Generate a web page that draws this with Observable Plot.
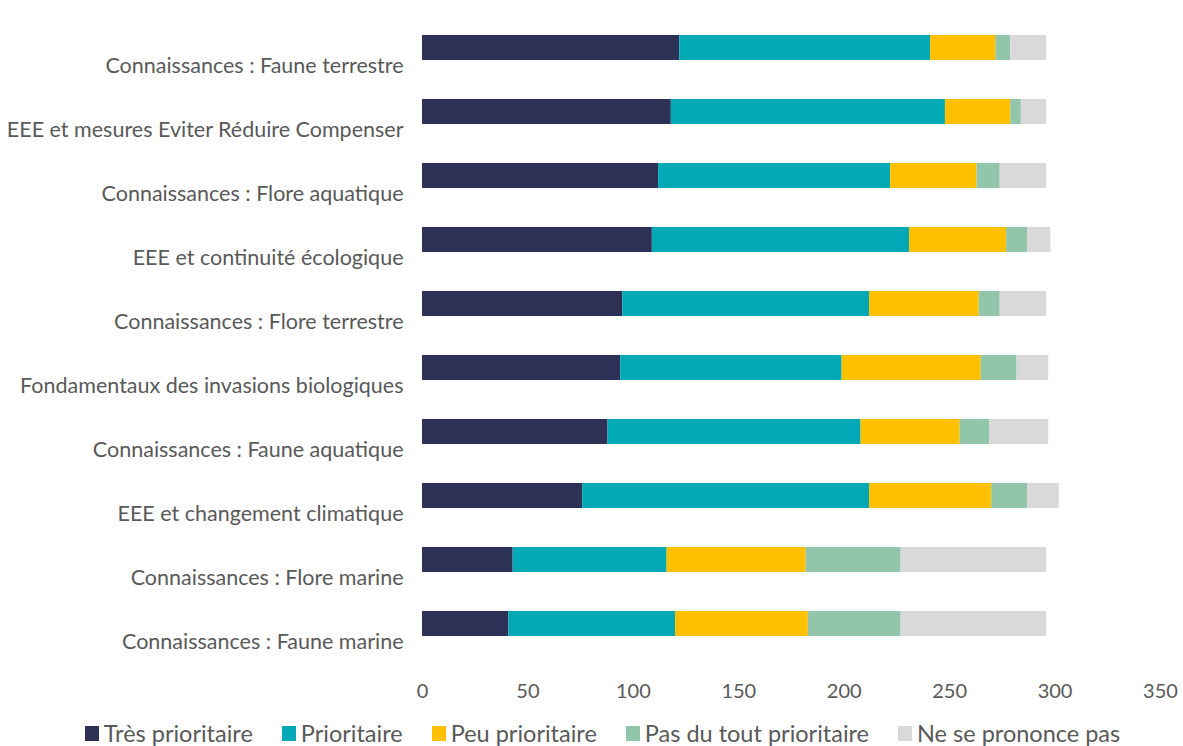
<!DOCTYPE html>
<html><head><meta charset="utf-8">
<script src="https://cdn.jsdelivr.net/npm/d3@7"></script>
<script src="https://cdn.jsdelivr.net/npm/@observablehq/plot@0.6"></script>
<style>
body{margin:0;background:#fff;font-family:Lato,"Open Sans",sans-serif;}
#chart svg{display:block;}
#legend{display:flex;justify-content:center;gap:29px;font-size:23.5px;line-height:28px;color:#595959;margin-top:7px;padding-left:22px;}
#legend span.sw{display:inline-block;width:14px;height:15px;margin-right:5px;}
#legend div{display:flex;align-items:center;}
</style></head><body>
<div id="chart"></div>
<div id="legend"></div>
<script>
const categories = [
  "Connaissances : Faune terrestre",
  "EEE et mesures Eviter Réduire Compenser",
  "Connaissances : Flore aquatique",
  "EEE et continuité écologique",
  "Connaissances : Flore terrestre",
  "Fondamentaux des invasions biologiques",
  "Connaissances : Faune aquatique",
  "EEE et changement climatique",
  "Connaissances : Flore marine",
  "Connaissances : Faune marine"
];
const series = ["Très prioritaire","Prioritaire","Peu prioritaire","Pas du tout prioritaire","Ne se prononce pas"];
const colors = ["#2E3156","#00A9B5","#FFC000","#91C6AA","#D9D9D9"];
const tresPrioritaire = [122,118,112,109,95,94,88,76,43,41];
const prioritaire     = [119,130,110,122,117,105,120,136,73,79];
const peuPrioritaire  = [31,31,41,46,52,66,47,58,66,63];
const pasDuTout       = [7,5,11,10,10,17,14,17,45,44];
const neSePrononce    = [17,12,22,11,22,15,28,15,69,69];
const xTicks = [0,50,100,150,200,250,300,350];

const cols = [tresPrioritaire,prioritaire,peuPrioritaire,pasDuTout,neSePrononce];
const data = [];
categories.forEach((c,i)=>series.forEach((s,j)=>data.push({cat:c,serie:s,value:cols[j][i]})));

const chart = Plot.plot({
  width:1183, height:712,
  marginLeft:422, marginRight:23, marginTop:12, marginBottom:53,
  style:{fontFamily:"Lato, 'Open Sans', sans-serif", color:"#595959", background:"#fff"},
  x:{domain:[0,350]},
  y:{domain:categories, paddingInner:0.61, paddingOuter:0.305},
  color:{domain:series, range:colors},
  marks:[
    Plot.gridX(xTicks,{stroke:"#d9d9d9", strokeOpacity:1, strokeWidth:1.3, y1:12, y2:658}),
    Plot.barX(data,{x:"value", y:"cat", fill:"serie", order:series}),
    Plot.axisX({ticks:xTicks, tickSize:0, tickPadding:24, fontSize:20, label:null, fill:"#595959"}),
    Plot.axisY({tickSize:0, tickPadding:19, dy:18, fontSize:21.5, label:null, fill:"#595959"})
  ]
});
document.getElementById("chart").appendChild(chart);
const lg=document.getElementById("legend");
series.forEach((s,i)=>{const d=document.createElement("div");d.innerHTML=`<span class="sw" style="background:${colors[i]}"></span>${s}`;lg.appendChild(d);});
</script></body></html>
